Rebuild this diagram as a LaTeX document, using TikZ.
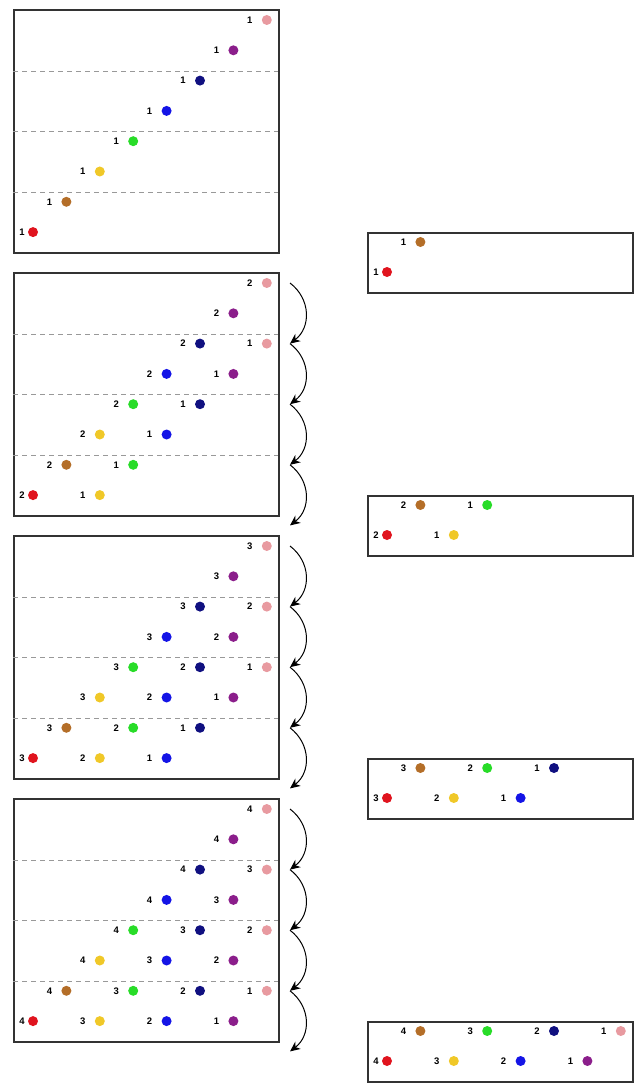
\documentclass[tikz,border=0pt]{standalone}
\usepackage{fontspec}
\setmainfont{Liberation Sans}
\usepackage{tikz}
\usetikzlibrary{arrows.meta}
\definecolor{Red}{HTML}{E0141E}
\definecolor{Brown}{HTML}{B46E28}
\definecolor{Yellow}{HTML}{F0C828}
\definecolor{Green}{HTML}{28DC28}
\definecolor{Blue}{HTML}{1414E6}
\definecolor{Navy}{HTML}{101080}
\definecolor{Purple}{HTML}{8B1E8B}
\definecolor{Pink}{HTML}{E89AA0}
\definecolor{Frame}{HTML}{333333}

\begin{document}
\begin{tikzpicture}[
  x=1pt,y=-1pt,
  every node/.style={inner sep=0pt,font=\bfseries\fontsize{9.5}{9.5}\selectfont},
  frame/.style={draw=Frame,line width=1.8pt,anchor=north west,minimum width=265pt},
  sep/.style={gray!80,dash pattern=on 5pt off 4pt,line width=0.7pt},
  dot/.style={circle,fill=#1,minimum size=10pt},
  arr/.style={-{Stealth[length=10pt,width=9pt,inset=3pt]},line width=1pt}
]
\useasboundingbox (0,0) rectangle (637,1083);
\foreach \bx in {1,...,4}{
  \pgfmathsetmacro\ytop{9+263*(\bx-1)}
  \pgfmathsetmacro\ysum{232+263*(\bx-1)}
  % stage frame and its summary frame
  \node[frame,minimum height=243pt] (box-\bx) at (13,\ytop) {};
  \node[frame,minimum height=60pt] (sum-\bx) at (367,\ysum) {};
  \foreach \dy in {62,122,183}
    \draw[sep] (13,{\ytop+\dy}) -- (278,{\ytop+\dy});
  \foreach \cl in {1,...,\bx}{
    \pgfmathtruncatemacro\val{\bx-\cl+1}
    \foreach \col [count=\ci from 0] in {Red,Brown,Yellow,Green,Blue,Navy,Purple,Pink}{
      \pgfmathtruncatemacro\row{\ci-2*(\cl-1)}
      \pgfmathsetmacro\lx{\ci==0 ? 11 : 17}
      \pgfmathsetmacro\px{33+33.4*\ci}
      \ifnum\row<0\relax\else
        \pgfmathsetmacro\py{\ytop+11+30.3*(7-\row)}
        \node[dot=\col] (d-\bx-\cl-\ci) at (\px,\py) {};
        \node (n-\bx-\cl-\ci) at ({\px-\lx},\py) {\val};
        \ifnum\row<2
          \pgfmathsetmacro\qy{\ysum+10+30*(1-\row)}
          \node[dot=\col] (s-\bx-\cl-\ci) at ({\px+354},\qy) {};
          \node (m-\bx-\cl-\ci) at ({\px+354-\lx},\qy) {\val};
        \fi
      \fi
    }
  }
  % hops down the right side
  \ifnum\bx>1
    \foreach \ia in {0,...,4}
      \coordinate (a-\bx-\ia) at (290,{\ytop+11+60.6*\ia});
    \foreach \ia [evaluate=\ia as \ib using int(\ia+1)] in {0,...,3}
      \draw[arr] (a-\bx-\ia) .. controls +(21,16) and +(21,-16) .. (a-\bx-\ib);
  \fi
}
\end{tikzpicture}
\end{document}
